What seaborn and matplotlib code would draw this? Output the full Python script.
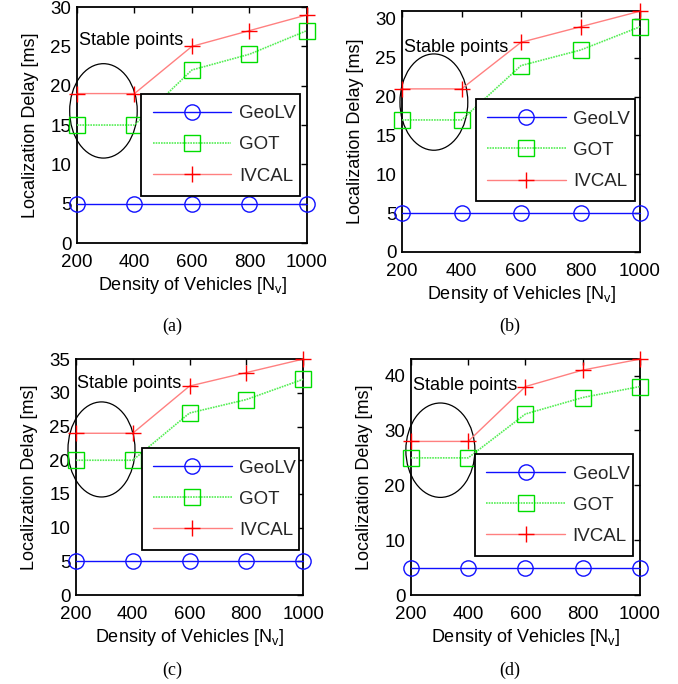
import matplotlib
matplotlib.use("Agg")
import matplotlib.pyplot as plt
from matplotlib.patches import Ellipse
import seaborn as sns
import pandas as pd

# ---------------- data ----------------
density = [200, 400, 600, 800, 1000]
series_names = ["GeoLV", "GOT", "IVCAL"]

geolv_a = [5, 5, 5, 5, 5]
got_a = [15, 15, 22, 24, 27]
ivcal_a = [19, 19, 25, 27, 29]

geolv_b = [5, 5, 5, 5, 5]
got_b = [17, 17, 24, 26, 29]
ivcal_b = [21, 21, 27, 29, 31]

geolv_c = [5, 5, 5, 5, 5]
got_c = [20, 20, 27, 29, 32]
ivcal_c = [24, 24, 31, 33, 35]

geolv_d = [5, 5, 5, 5, 5]
got_d = [25, 25, 33, 36, 38]
ivcal_d = [28, 28, 38, 41, 43]

captions = ["(a)", "(b)", "(c)", "(d)"]
xlabel = "Density of Vehicles [N$_{v}$]"
ylabel = "Localization Delay [ms]"
annot_text = "Stable points"

# ---------------- style ----------------
sns.set_theme(style="white")
plt.rcParams["font.family"] = ["Liberation Sans", "DejaVu Sans"]
plt.rcParams["mathtext.fontset"] = "custom"
plt.rcParams["mathtext.rm"] = "Liberation Sans"
plt.rcParams["mathtext.default"] = "regular"

fig = plt.figure(figsize=(6.78, 6.84), dpi=100)

panels = [
    dict(rect=[0.1136, 0.6447, 0.339, 0.345], vals=(geolv_a, got_a, ivcal_a),
         ylim=(0, 30), yticks=list(range(0, 31, 5)), ell=(292, 16.8, 235, 12.0),
         txt=(207, 25.8), leg=(0.28, 0.20, 0.69, 0.39), cap=(172 / 678, 1 - 326 / 684)),
    dict(rect=[0.593, 0.6316, 0.351, 0.352], vals=(geolv_b, got_b, ivcal_b),
         ylim=(0, 31), yticks=list(range(0, 31, 5)), ell=(307, 19.3, 228, 12.4),
         txt=(207, 26.3), leg=(0.31, 0.21, 0.67, 0.41), cap=(510 / 678, 1 - 326 / 684)),
    dict(rect=[0.112, 0.130, 0.335, 0.345], vals=(geolv_c, got_c, ivcal_c),
         ylim=(0, 35), yticks=list(range(0, 36, 5)), ell=(290, 21.6, 236, 14.1),
         txt=(205, 31.4), leg=(0.29, 0.19, 0.69, 0.39), cap=(172 / 678, 1 - 670 / 684)),
    dict(rect=[0.606, 0.130, 0.338, 0.345], vals=(geolv_d, got_d, ivcal_d),
         ylim=(0, 43), yticks=list(range(0, 41, 10)), ell=(303, 26.4, 241, 17.2),
         txt=(208, 38.2), leg=(0.28, 0.165, 0.69, 0.405), cap=(510 / 678, 1 - 670 / 684)),
]

styles = [
    dict(color="#1010ff", marker="o", markeredgecolor="#1010ff", linestyle="-", linewidth=1.0),
    dict(color="#55ee55", marker="s", markeredgecolor="#00dd00", linestyle=(0, (1, 0.6)), linewidth=1.2),
    dict(color="#ff8080", marker="+", markeredgecolor="#ff0000", linestyle="-", linewidth=1.0),
]

for i, p in enumerate(panels):
    ax = fig.add_axes(p["rect"])
    for name, vals, st in zip(series_names, p["vals"], styles):
        df = pd.DataFrame({"x": density, "y": vals})
        sns.lineplot(data=df, x="x", y="y", ax=ax, label=name, errorbar=None,
                     color=st["color"], marker=st["marker"], markersize=11,
                     markerfacecolor="none", markeredgecolor=st["markeredgecolor"],
                     markeredgewidth=1.0, linestyle=st["linestyle"],
                     linewidth=st["linewidth"], clip_on=False, zorder=3)
    ax.set_xlim(200, 1000)
    ax.set_ylim(*p["ylim"])
    ax.set_xticks(density)
    ax.set_yticks(p["yticks"])
    ax.tick_params(direction="in", top=True, right=True, length=4, width=1,
                   labelsize=13.5, colors="black")
    ax.tick_params(axis="x", pad=8)
    ax.tick_params(axis="y", pad=4)
    for s in ax.spines.values():
        s.set_color("black")
        s.set_linewidth(1.3)
    ax.set_xlabel(xlabel, fontsize=13, color="black", labelpad=3)
    ax.set_ylabel(ylabel, fontsize=13, color="black", labelpad=8)

    cx, cy, w, h = p["ell"]
    ax.add_patch(Ellipse((cx, cy), w, h, fill=False, edgecolor="black",
                         linewidth=0.9, clip_on=False, zorder=2))
    ax.text(p["txt"][0], p["txt"][1], annot_text, fontsize=13, va="center",
            ha="left", color="black", zorder=4)

    leg = ax.legend(loc="lower left", bbox_to_anchor=p["leg"], mode="expand",
                    fontsize=13.5, frameon=True, fancybox=False, framealpha=1,
                    edgecolor="black", handlelength=4.2, borderaxespad=0,
                    labelspacing=0.75, borderpad=0.6, handletextpad=0.4)
    leg.get_frame().set_linewidth(1.3)
    leg.set_zorder(5)

    fig.text(p["cap"][0], p["cap"][1], captions[i], ha="center", va="center",
             fontsize=13, family=["Liberation Serif", "DejaVu Serif"], color="black")

fig.savefig("out.png", dpi=100)
